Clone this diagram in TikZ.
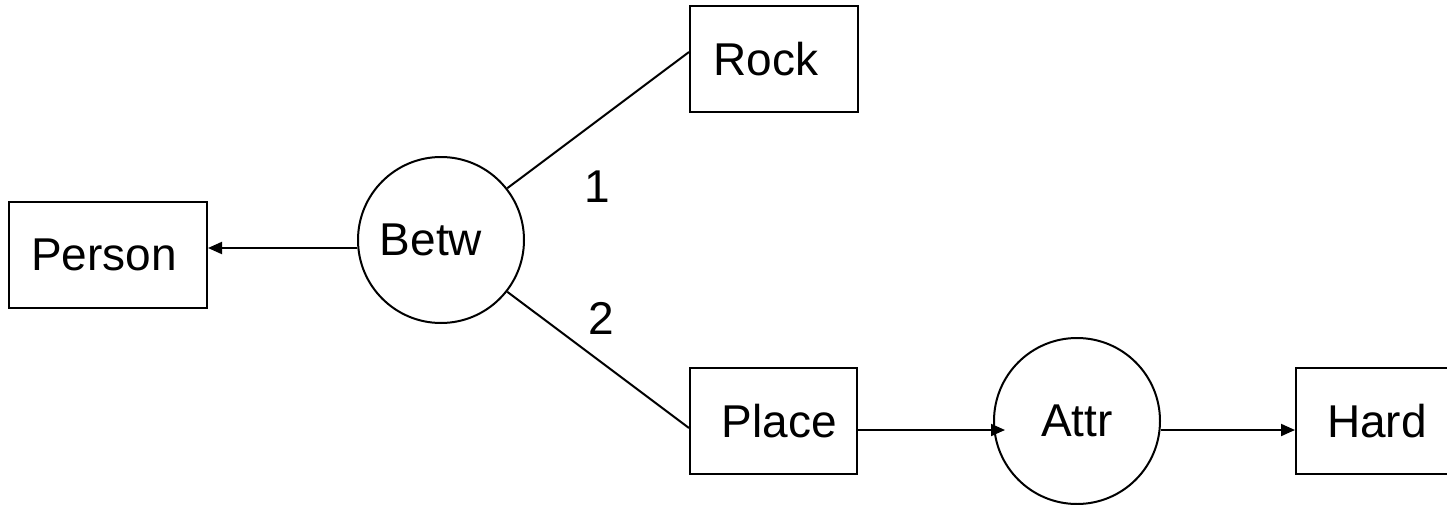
\documentclass[tikz,border=0pt]{standalone}
\usepackage{fontspec}
\setmainfont{Liberation Sans}
\usetikzlibrary{arrows.meta}

\begin{document}
\begin{tikzpicture}[x=0.5pt, y=-0.5pt,
  every node/.style={font=\fontsize{23pt}{27pt}\selectfont, inner sep=0pt},
  concept/.style={draw, line width=1pt, rectangle, minimum height=53pt},
  relation/.style={draw, line width=1pt, circle, minimum size=83pt},
  link/.style={line width=1pt},
  arr/.style={line width=1pt, -{Triangle[length=7pt, width=6pt]}}
]
  \useasboundingbox (0,0) rectangle (1447,504);

  % concepts (the kerns nudge each label off the box centre)
  \node[concept, minimum width=99pt]   (Person) at (108,255)    {Person\kern4pt};
  \node[concept, minimum width=84pt]   (Rock)   at (774,59)     {Rock\kern8pt};
  \node[concept, minimum width=83.5pt] (Place)  at (773.5,421)  {\kern6pt Place};
  \node[concept, minimum width=87pt]   (Hard)   at (1383,421)   {Hard\kern6pt};

  % relations
  \node[relation] (Betw) at (441,240)  {Betw\kern10pt};
  \node[relation] (Attr) at (1077,421) {Attr};

  % arcs
  \draw[arr]  ([yshift=-4pt]Betw.west) -- ([yshift=3.5pt]Person.east);
  \draw[link] (Betw.38)  -- ([yshift=3.5pt]Rock.west);
  \draw[link] (Betw.-38) -- ([yshift=-3.5pt]Place.west);
  \draw[arr]  ([yshift=-4.5pt]Place.east) -- ([yshift=-4.5pt, xshift=6pt]Attr.west);
  \draw[arr]  ([yshift=-4.5pt]Attr.east) -- ([yshift=-4.5pt]Hard.west);

  % argument numbers
  \node (n1) at (597,187) {1};
  \node (n2) at (601,318) {2};
\end{tikzpicture}
\end{document}
